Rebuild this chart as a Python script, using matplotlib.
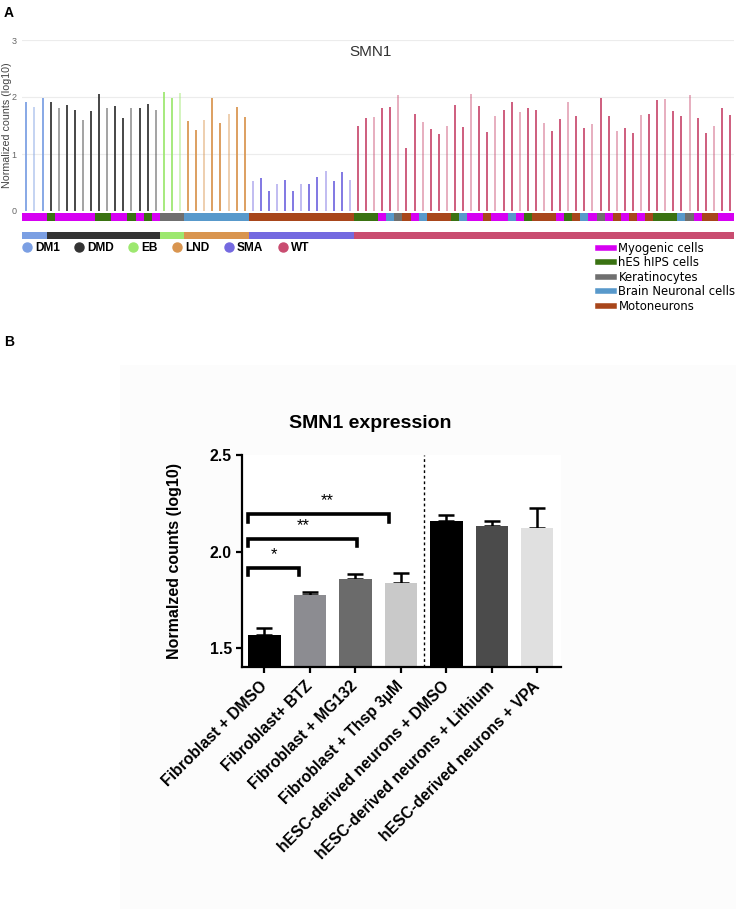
import numpy as np
import matplotlib.pyplot as plt
from matplotlib.lines import Line2D
from matplotlib.patches import Rectangle

plt.rcParams['font.family'] = ['Liberation Sans', 'DejaVu Sans']

### Panel A data (one vertical line per sample)
groups = ['DM1', 'DMD', 'EB', 'LND', 'SMA', 'WT']
group_colors = ['#7b9fe3', '#333333', '#9de86f', '#d9954f', '#7469e0', '#c94c70']

dm1 = [1.92, 1.82, 1.98]
dmd = [1.92, 1.80, 1.86, 1.77, 1.59, 1.75, 2.05, 1.80, 1.84, 1.63, 1.80, 1.80, 1.88, 1.77]
eb = [2.09, 1.98, 2.07]
lnd = [1.58, 1.42, 1.59, 1.99, 1.55, 1.70, 1.82, 1.65]
sma = [0.52, 0.58, 0.35, 0.47, 0.54, 0.35, 0.47, 0.47, 0.60, 0.71, 0.53, 0.69, 0.55]
wt = [1.49, 1.64, 1.65, 1.80, 1.82, 2.04, 1.11, 1.71, 1.57, 1.43, 1.35, 1.50, 1.86, 1.47,
      2.05, 1.84, 1.39, 1.66, 1.77, 1.91, 1.73, 1.81, 1.77, 1.55, 1.41, 1.61, 1.91, 1.66,
      1.46, 1.53, 1.99, 1.66, 1.41, 1.45, 1.37, 1.69, 1.71, 1.95, 1.96, 1.75, 1.66, 2.03,
      1.63, 1.36, 1.49, 1.80, 1.68]

# cell type of every sample, M=Myogenic, H=hES hIPS, K=Keratinocytes, B=Brain neuronal, N=Motoneurons
cell_type = (['M'] * 3 + ['H'] + ['M'] * 5 + ['H'] * 2 + ['M'] * 2 + ['H', 'M', 'H', 'M']
             + ['K'] * 3 + ['B'] * 8 + ['N'] * 13
             + ['H'] * 3 + ['M', 'B', 'K', 'N', 'M', 'B'] + ['N'] * 3 + ['H', 'B'] + ['M'] * 2
             + ['N'] + ['M'] * 2 + ['B', 'M', 'H'] + ['N'] * 3 + ['M', 'H', 'N', 'B', 'M', 'K', 'M',
             'N', 'M', 'N', 'M', 'N'] + ['H'] * 3 + ['B', 'K', 'M'] + ['N'] * 2 + ['M'] * 2)
cell_codes = ['M', 'H', 'K', 'B', 'N']
cell_names = ['Myogenic cells', 'hES hIPS cells', 'Keratinocytes', 'Brain Neuronal cells', 'Motoneurons']
cell_colors = ['#d600f2', '#3a7212', '#6f6f6f', '#5899cb', '#a8461b']

### Panel B data
conditions = ['Fibroblast + DMSO', 'Fibroblast+ BTZ', 'Fibroblast + MG132', 'Fibroblast + Thsp 3µM',
              'hESC-derived neurons + DMSO', 'hESC-derived neurons + Lithium',
              'hESC-derived neurons + VPA']
means = [1.569, 1.776, 1.860, 1.836, 2.157, 2.134, 2.121]
sem = [0.034, 0.015, 0.023, 0.055, 0.033, 0.023, 0.106]
bar_colors = ['#000000', '#8c8c91', '#6b6b6b', '#c9c9c9', '#000000', '#4b4b4b', '#e0e0e0']
# significance brackets: start, end, height, label, label x
brackets = [(-0.36, 0.75, 1.914, '*', 0.20),
            (-0.36, 2.03, 2.064, '**', 0.86),
            (-0.36, 2.74, 2.193, '**', 1.39)]

W, H = 736, 909
fig = plt.figure(figsize=(W / 100, H / 100), dpi=100)

def fx(px):
    return px / W

def fy(py):
    return 1 - py / H

### Panel A
values = dm1 + dmd + eb + lnd + sma + wt
sizes = [len(dm1), len(dmd), len(eb), len(lnd), len(sma), len(wt)]
sample_group = np.repeat(np.arange(len(groups)), sizes)
x = np.arange(len(values))

axA = fig.add_axes([fx(22.3), fy(211), fx(734 - 22.3), 171 / H])
for i, v in enumerate(values):
    alpha = 0.9 if i % 3 != 1 else 0.45
    axA.vlines(i, 0, v, color=group_colors[sample_group[i]], lw=1.4, alpha=alpha)
axA.set_xlim(-0.5, len(values) - 0.5)
axA.set_ylim(0, 3)
axA.set_yticks([0, 1, 2, 3])
axA.set_xticks([])
axA.tick_params(axis='y', length=0, pad=4, labelsize=6.5, labelcolor='#666666')
axA.grid(axis='y', color='#ececec', lw=0.8)
axA.set_axisbelow(True)
for s in axA.spines.values():
    s.set_visible(False)
axA.text(42.6, 2.79, 'SMN1', ha='center', va='center', fontsize=11, color='#333333')

axC = fig.add_axes([fx(22.3), fy(221), fx(734 - 22.3), 7.7 / H])
axC.bar(x, 1, width=1.0, color=[cell_colors[cell_codes.index(c)] for c in cell_type])
axC.set_xlim(-0.5, len(values) - 0.5)
axC.set_ylim(0, 1)
axC.axis('off')

axD = fig.add_axes([fx(22.3), fy(239.3), fx(734 - 22.3), 7.6 / H])
axD.bar(x, 1, width=1.0, color=[group_colors[g] for g in sample_group])
axD.set_xlim(-0.5, len(values) - 0.5)
axD.set_ylim(0, 1)
axD.axis('off')

fig.text(fx(7.5), fy(125), 'Normalized counts (log10)', rotation=90, ha='center', va='center',
         fontsize=7.7, color='#444444')
fig.text(fx(4), fy(17), 'A', fontsize=10, fontweight='bold')
fig.text(fx(4), fy(346), 'B', fontsize=10, fontweight='bold')

dis_handles = [Line2D([], [], marker='o', ls='', color=c, markersize=6.5) for c in group_colors]
fig.legend(dis_handles, groups, loc='upper left', bbox_to_anchor=(fx(23), fy(242)), ncol=6,
           frameon=False, prop={'weight': 'bold', 'size': 8.6}, handlelength=0.6,
           handletextpad=0.4, columnspacing=1.3, borderpad=0, borderaxespad=0)

cell_handles = [Line2D([], [], color=c, lw=4) for c in cell_colors]
fig.legend(cell_handles, cell_names, loc='upper left', bbox_to_anchor=(fx(598), fy(242)),
           frameon=False, prop={'family': 'DejaVu Sans', 'size': 8.4}, handlelength=1.4,
           handletextpad=0.35, labelspacing=0.12, borderpad=0, borderaxespad=0)

### Panel B
fig.patches.append(Rectangle((fx(120), 0), 1 - fx(120), fy(365), transform=fig.transFigure,
                             facecolor='#fcfcfc', edgecolor='none', zorder=-5))

axB = fig.add_axes([fx(241.7), fy(667.3), fx(561 - 241.7), (667.3 - 455) / H])
xb = np.arange(len(conditions))
axB.bar(xb, means, width=0.71, color=bar_colors, zorder=2)
axB.errorbar(xb, means, yerr=[np.zeros(len(sem)), sem], fmt='none', ecolor='black',
             elinewidth=1.8, capsize=5.5, capthick=1.8, zorder=1)
axB.axvline(3.5, color='black', lw=1, ls=(0, (2, 2)))
for x0, x1, yb, lab, xl in brackets:
    axB.plot([x0, x0, x1, x1], [yb - 0.038, yb, yb, yb - 0.038], color='black', lw=2.6,
             solid_joinstyle='miter', clip_on=False)
    axB.text(xl, yb + 0.07, lab, ha='center', va='center', fontsize=12)

axB.set_xlim(-0.5, 6.52)
axB.set_ylim(1.4, 2.5)
axB.set_yticks([1.5, 2.0, 2.5])
axB.set_yticklabels(['1.5', '2.0', '2.5'])
axB.set_xticks(xb)
axB.set_xticklabels(conditions, rotation=45, ha='right', va='center', rotation_mode='anchor')
for lab in axB.get_xticklabels() + axB.get_yticklabels():
    lab.set_fontweight('bold')
    lab.set_fontsize(11.3)
axB.tick_params(width=1.6, length=4, pad=3)
axB.tick_params(axis='x', pad=8)
axB.spines['top'].set_visible(False)
axB.spines['right'].set_visible(False)
axB.spines['left'].set_linewidth(1.6)
axB.spines['bottom'].set_linewidth(1.6)
axB.set_ylabel('Normalzed counts (log10)', fontsize=11.5, fontweight='bold', labelpad=20)
fig.text(fx(370), fy(423), 'SMN1 expression', ha='center', va='center', fontsize=14,
         fontweight='bold')

plt.savefig('out.png', dpi=100)
